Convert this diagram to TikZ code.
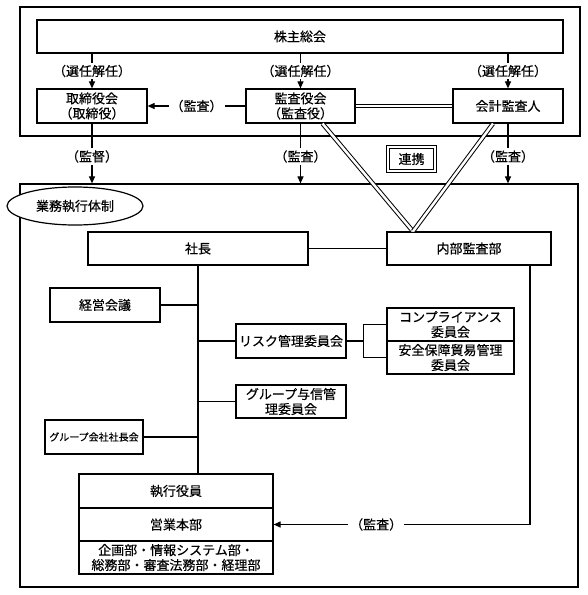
\documentclass[tikz,border=0pt]{standalone}
\usepackage{fontspec}
\setmainfont[FakeBold=0.4]{Noto Sans CJK JP}
\usepackage{tikz}
\usetikzlibrary{arrows.meta,positioning,calc,shapes.geometric}

\begin{document}
\begin{tikzpicture}[
  x=1pt, y=-1pt,
  every node/.style={font=\fontsize{13}{15}\selectfont, align=center},
  box/.style={draw, line width=1.2pt, inner sep=0pt, fill=white},
  frame/.style={draw, line width=1.2pt, inner sep=0pt},
  arrow/.style={-{Triangle[length=7pt,width=6pt]}, line width=1.1pt}, % arrow points at the audited side
  link/.style={line width=1.1pt},
  dbl/.style={double, double distance=2.5pt, line width=1pt},
  lbl/.style={fill=white, inner sep=2pt},
  ]
\useasboundingbox (0,0) rectangle (588,595);

% Top frame (shareholders and boards)
\node[frame, minimum width=560pt, minimum height=129pt] (topframe) at (300,71.5) {};
\node[box, minimum width=526pt, minimum height=33pt] (gm) at (300,36.5) {株主総会};
\node[box, minimum width=110pt, minimum height=34pt] (board) at (92,106) {取締役会\\（取締役）};
\node[box, minimum width=109pt, minimum height=34pt] (kansa) at (300.5,106) {監査役会\\（監査役）};
\node[box, minimum width=110pt, minimum height=34pt] (auditor) at (508,106) {会計監査人};

% Lower frame (business execution)
\node[frame, minimum width=558pt, minimum height=403pt] (execframe) at (299,385.5) {};
\node[box, ellipse, minimum width=136pt, minimum height=38pt] (taisei) at (75,206) {業務執行体制};
\node[draw, double, double distance=1.5pt, line width=1.1pt, inner sep=0pt,
      minimum width=47pt, minimum height=24pt] (renkei) at (411.5,159) {連携};

\node[box, minimum width=220pt, minimum height=33pt] (shacho) at (198,248.5) {社長};
\node[box, minimum width=164pt, minimum height=33pt] (naibu) at (469,248.5) {内部監査部};
\node[box, minimum width=110pt, minimum height=34pt] (keiei) at (105,305) {経営会議};
\node[box, minimum width=110pt, minimum height=34pt] (risk) at (291,341) {リスク管理委員会};
\node[box, minimum width=110pt, minimum height=33pt] (credit) at (291,401.5) {グループ与信管\\理委員会};
\node[box, minimum width=127pt, minimum height=33pt] (comp) at (450.5,324.5) {コンプライアンス\\委員会};
\node[box, minimum width=127pt, minimum height=33pt] (anpo) at (450.5,357.5) {安全保障貿易管理\\委員会};
\node[box, minimum width=98pt, minimum height=34pt, font=\fontsize{10}{12}\selectfont] (group) at (94,437) {グループ会社社長会};

% Executive stack
\node[box, minimum width=194pt, minimum height=34pt] (yakuin) at (176,491) {執行役員};
\node[box, minimum width=194pt, minimum height=33pt] (eigyo) at (176,524.5) {営業本部};
\node[box, minimum width=194pt, minimum height=33pt] (bumon) at (176,557.5) {企画部・情報システム部・\\総務部・審査法務部・経理部};

% Appointment arrows
\draw[arrow] (gm.south -| board.north) -- node[lbl] {（選任解任）} (board.north);
\draw[arrow] (gm.south -| kansa.north) -- node[lbl] {（選任解任）} (kansa.north);
\draw[arrow] (gm.south -| auditor.north) -- node[lbl] {（選任解任）} (auditor.north);

% Supervision and audit arrows
\draw[arrow] (kansa.west) -- node[lbl] {（監査）} (board.east);
\draw[arrow] (board.south) -- node[lbl, pos=0.55] {（監督）} (board.south |- execframe.north);
\draw[arrow] (kansa.south) -- node[lbl, pos=0.55] {（監査）} (kansa.south |- execframe.north);
\draw[arrow] (auditor.south) -- node[lbl, pos=0.55] {（監査）} (auditor.south |- execframe.north);

% Cooperation (double lines)
\coordinate (vee) at ($(naibu.north)+(-56,0)$);
\draw[dbl] (kansa.east) -- (auditor.west);
\draw[dbl] ([xshift=22pt]kansa.south) -- (vee);
\draw[dbl] ([xshift=-15pt]auditor.south) -- (vee);

% Organisation lines
\draw[link] (shacho.east) -- (naibu.west);
\draw[link] (shacho.south) -- (shacho.south |- yakuin.north);
\draw[link] (keiei.east) -- (keiei.east -| shacho.south);
\draw[link] (risk.west) -- (risk.west -| shacho.south);
\draw[link] (credit.west) -- (credit.west -| shacho.south);
\draw[link] (group.east) -- (group.east -| shacho.south);

% Bracket to the committees
\coordinate (brk) at ($(risk.east)+(17,0)$);
\draw[link] (risk.east) -- (brk);
\draw[link] (comp.west) -| (brk) |- (anpo.west);

% Internal audit
\draw[arrow] ([xshift=61pt]naibu.south) |- node[lbl, pos=0.8] {（監査）} (eigyo.east);

\end{tikzpicture}
\end{document}
